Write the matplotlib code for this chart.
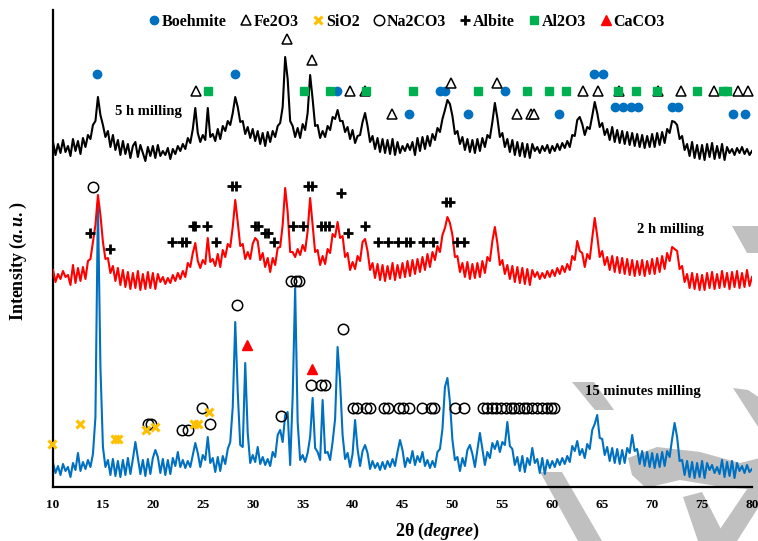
import numpy as np
import matplotlib
matplotlib.use("Agg")
import matplotlib.pyplot as plt
from matplotlib.lines import Line2D
from matplotlib.patches import Polygon

plt.rcParams['font.family'] = ['Liberation Serif', 'DejaVu Serif']
plt.rcParams['font.weight'] = 'bold'
plt.rcParams['mathtext.fontset'] = 'custom'
plt.rcParams['mathtext.rm'] = 'Liberation Serif:bold'
plt.rcParams['mathtext.bf'] = 'Liberation Serif:bold'
plt.rcParams['mathtext.it'] = 'Liberation Serif:bold:italic'

# 2-theta scan, 0.25 degree steps
two_theta = np.arange(10.0, 80.001, 0.25)

# intensities (a.u.), one row per 5 degrees
milled_5h = [
    345, 332, 343, 334, 347, 335, 341, 331, 348, 336, 346, 333, 349, 340, 352, 348, 362, 366, 390, 372,
    362, 350, 356, 340, 352, 337, 347, 332, 346, 333, 343, 329, 341, 345, 330, 342, 334, 326, 340, 331,
    341, 329, 342, 331, 336, 332, 339, 328, 338, 333, 341, 336, 343, 338, 349, 344, 358, 379, 354, 345,
    352, 347, 379, 350, 353, 346, 358, 348, 361, 356, 366, 362, 374, 390, 380, 365, 366, 353, 360, 349,
    358, 346, 356, 343, 354, 341, 355, 345, 356, 350, 361, 364, 380, 430, 408, 366, 361, 350, 359, 349,
    363, 357, 374, 412, 388, 361, 362, 349, 356, 350, 361, 357, 370, 368, 377, 366, 366, 355, 360, 348,
    357, 344, 351, 352, 365, 374, 361, 345, 351, 338, 349, 335, 348, 334, 347, 333, 348, 332, 345, 334,
    341, 336, 343, 337, 345, 332, 349, 336, 350, 338, 351, 341, 353, 347, 359, 355, 368, 377, 387, 383,
    371, 353, 356, 343, 350, 337, 348, 335, 347, 334, 348, 336, 349, 340, 352, 349, 365, 384, 369, 350,
    354, 340, 348, 335, 347, 332, 345, 331, 344, 330, 343, 329, 343, 336, 340, 334, 341, 336, 342, 334,
    341, 336, 343, 337, 344, 339, 346, 340, 352, 351, 367, 370, 363, 352, 360, 358, 371, 385, 374, 360,
    364, 352, 358, 347, 360, 345, 357, 344, 356, 343, 355, 342, 354, 341, 353, 340, 352, 339, 351, 340,
    353, 340, 354, 342, 355, 344, 358, 354, 366, 365, 362, 348, 351, 337, 343, 331, 345, 329, 342, 328,
    342, 327, 343, 330, 344, 328, 341, 329, 343, 327, 340, 334, 338, 332, 339, 334, 340, 333, 338, 332,
    336,
]
milled_2h = [
    217, 205, 213, 208, 216, 210, 212, 202, 222, 204, 219, 206, 220, 208, 226, 228, 245, 262, 292, 272,
    245, 228, 229, 214, 221, 206, 219, 202, 217, 200, 215, 198, 214, 199, 216, 197, 213, 198, 215, 199,
    214, 198, 213, 205, 210, 203, 209, 204, 212, 206, 214, 208, 216, 210, 224, 220, 234, 244, 226, 219,
    227, 223, 249, 225, 228, 221, 233, 220, 237, 230, 243, 240, 260, 287, 265, 241, 243, 228, 235, 228,
    243, 249, 246, 227, 234, 220, 229, 215, 229, 222, 239, 240, 262, 299, 275, 235, 235, 230, 238, 232,
    242, 236, 256, 289, 262, 235, 237, 222, 231, 223, 238, 234, 253, 250, 265, 249, 251, 230, 234, 217,
    225, 218, 231, 226, 245, 248, 236, 217, 224, 209, 223, 207, 222, 206, 221, 208, 224, 207, 222, 209,
    224, 210, 226, 211, 227, 213, 228, 215, 230, 217, 233, 220, 235, 227, 241, 235, 252, 259, 270, 264,
    252, 230, 231, 215, 224, 210, 225, 208, 223, 209, 224, 210, 226, 214, 230, 226, 246, 260, 244, 222,
    227, 213, 222, 208, 221, 205, 220, 204, 219, 203, 218, 202, 217, 210, 215, 208, 214, 209, 216, 210,
    217, 211, 219, 213, 221, 215, 223, 217, 231, 227, 246, 236, 234, 220, 233, 228, 249, 269, 251, 230,
    236, 222, 230, 217, 231, 215, 230, 214, 229, 213, 228, 212, 227, 211, 226, 212, 227, 211, 226, 213,
    228, 213, 229, 215, 231, 218, 234, 226, 240, 238, 236, 218, 221, 205, 213, 199, 214, 198, 213, 197,
    212, 197, 214, 199, 215, 198, 213, 199, 216, 200, 214, 198, 215, 200, 216, 199, 214, 200, 217, 201,
    210,
]
milled_15min = [
    24, 14, 21, 12, 23, 16, 20, 10, 24, 17, 34, 16, 25, 18, 27, 20, 33, 70, 285, 120,
    40, 20, 27, 12, 28, 11, 26, 10, 27, 12, 29, 13, 28, 45, 29, 13, 27, 11, 28, 13,
    29, 37, 30, 14, 28, 12, 27, 13, 29, 21, 35, 20, 27, 19, 26, 20, 32, 44, 34, 20,
    32, 27, 50, 24, 29, 15, 30, 16, 31, 23, 38, 45, 80, 165, 95, 42, 40, 124, 54, 24,
    32, 25, 40, 23, 30, 22, 28, 21, 35, 30, 52, 57, 45, 72, 75, 22, 90, 199, 65, 27,
    32, 25, 34, 50, 89, 39, 35, 27, 87, 34, 35, 27, 45, 68, 140, 105, 52, 28, 34, 20,
    33, 67, 38, 21, 36, 42, 34, 18, 26, 19, 24, 17, 25, 18, 26, 20, 28, 21, 35, 47,
    37, 20, 29, 24, 36, 22, 31, 25, 35, 21, 27, 19, 26, 20, 35, 38, 58, 100, 109, 85,
    47, 27, 30, 16, 29, 21, 37, 42, 33, 20, 37, 54, 38, 22, 35, 29, 44, 38, 46, 35,
    45, 42, 65, 41, 38, 22, 30, 16, 31, 15, 29, 22, 39, 24, 28, 14, 29, 13, 27, 19,
    26, 20, 28, 22, 29, 23, 31, 25, 41, 36, 46, 32, 38, 29, 43, 38, 57, 63, 72, 49,
    48, 32, 40, 26, 39, 24, 38, 23, 37, 24, 39, 34, 52, 36, 38, 23, 36, 21, 35, 20,
    34, 19, 33, 20, 35, 21, 36, 30, 48, 64, 50, 26, 27, 12, 26, 10, 25, 9, 24, 10,
    26, 9, 24, 17, 22, 14, 20, 13, 27, 10, 25, 11, 26, 9, 24, 16, 21, 14, 22, 15,
    18,
]

# phase markers: (2-theta, height)
boehmite = [(14.4, 413), (28.2, 413), (38.4, 396), (45.7, 373), (48.8, 396), (49.3, 396),
            (51.6, 373), (55.3, 396), (60.7, 373), (64.2, 413), (65.1, 413), (66.3, 380),
            (67.1, 380), (67.9, 380), (68.6, 380), (72.0, 380), (72.6, 380), (78.1, 373), (79.3, 373)]
fe2o3 = [(24.3, 396), (33.4, 448), (35.9, 427), (39.7, 396), (41.2, 396), (43.9, 373),
         (49.9, 404), (54.5, 404), (56.5, 373), (57.9, 373), (58.2, 373), (63.1, 396),
         (64.6, 396), (66.7, 396), (70.6, 396), (72.9, 396), (76.2, 396), (78.6, 396), (79.6, 396)]
al2o3 = [(25.5, 396), (35.1, 396), (37.7, 396), (41.3, 396), (46.1, 396), (52.6, 396),
         (57.5, 396), (59.7, 396), (61.4, 396), (66.6, 396), (68.4, 396), (70.5, 396),
         (74.5, 396), (77.1, 396), (77.5, 396)]
albite = [(13.7, 254), (15.7, 238), (21.9, 245), (22.9, 245), (23.3, 245), (24.0, 261),
          (24.2, 261), (25.4, 261), (26.3, 245), (27.9, 301), (28.3, 301), (30.2, 261),
          (30.5, 261), (31.2, 254), (31.5, 254), (32.1, 245), (34.0, 261), (35.0, 261),
          (35.5, 301), (35.9, 301), (36.8, 261), (37.2, 261), (37.6, 261), (38.8, 294),
          (39.5, 254), (41.2, 261), (42.5, 245), (43.5, 245), (44.5, 245), (45.4, 245),
          (45.8, 245), (47.1, 245), (48.1, 245), (49.4, 285), (49.8, 285),
          (50.5, 245), (51.2, 245)]
na2co3 = [(14.0, 300), (19.5, 63), (19.8, 63), (22.9, 57), (23.5, 57), (24.9, 79), (25.7, 63),
          (28.4, 182), (32.8, 71), (33.8, 206), (34.3, 206), (34.6, 206), (35.8, 102),
          (36.8, 102), (37.2, 102), (39.0, 158)]
na2co3 += [(t, 79) for t in [40.0, 40.4, 41.3, 41.7, 43.1, 43.5, 44.6, 45.1, 45.7, 47.0, 47.9,
                             48.2, 50.3, 51.2, 53.1, 53.5, 54.0, 54.4, 54.9, 55.4, 55.9, 56.2,
                             56.7, 57.2, 57.5, 58.0, 58.5, 59.0, 59.5, 59.9, 60.2]]
sio2 = [(9.9, 43), (12.7, 63), (16.2, 48), (16.5, 48), (19.3, 57), (20.2, 60), (24.1, 63),
        (24.5, 63), (25.6, 75)]
caco3 = [(29.4, 142), (35.9, 118)]

W, H = 758, 541
fig = plt.figure(figsize=(W / 100, H / 100), dpi=100)

# grey background swooshes (pixel outlines)
swooshes = [
    [(732, 226), (760, 226), (760, 253), (747, 253)],
    [(572, 382), (594, 382), (614, 410), (595, 410)],
    [(733, 388), (748, 390), (760, 398), (760, 430)],
    [(540, 472), (562, 472), (602, 541), (578, 541)],
    [(628, 458), (657, 447), (700, 452), (740, 463), (760, 458), (760, 490),
     (722, 487), (680, 480), (646, 488), (632, 475)],
    [(760, 470), (760, 505), (737, 541), (712, 541)],
    [(683, 497), (702, 492), (727, 541), (698, 541)],
]
for pts in swooshes:
    fig.patches.append(Polygon([(x / W, 1 - y / H) for x, y in pts], closed=True,
                               transform=fig.transFigure, facecolor='#c0c0c0',
                               edgecolor='none', zorder=-5))

ax = fig.add_axes([53 / W, 1 - 487 / H, 699 / W, 477 / H])
ax.set_facecolor('none')

ax.plot(two_theta, milled_15min, color='#0070C0', lw=1.5, zorder=2)
ax.plot(two_theta, milled_2h, color='#FF0000', lw=1.5, zorder=3)
ax.plot(two_theta, milled_5h, color='black', lw=1.5, zorder=4)


def mark(pairs, **kw):
    t, h = zip(*pairs)
    ax.plot(t, h, ls='none', clip_on=False, zorder=6, **kw)


mark(boehmite, marker='o', ms=6, mfc='#0070C0', mec='#0070C0')
mark(fe2o3, marker='^', ms=7, mfc='white', mec='black', mew=1.1)
mark(al2o3, marker='s', ms=6, mfc='#00B050', mec='#00B050')
mark(albite, marker='+', ms=7, mec='black', mew=2)
mark(na2co3, marker='o', ms=7.5, mfc='none', mec='black', mew=1.1)
mark(sio2, marker='x', ms=5.5, mec='#FFC000', mew=2.2)
mark(caco3, marker='^', ms=7, mfc='#FF0000', mec='#FF0000')

ax.text(19.6, 375, '5 h milling', fontsize=10.5, ha='center', va='center', zorder=7)
ax.text(71.8, 258, '2 h milling', fontsize=10.5, ha='center', va='center', zorder=7)
ax.text(69.1, 96, '15 minutes milling', fontsize=10.5, ha='center', va='center', zorder=7)

ax.set_xlim(10, 80)
ax.set_ylim(0, 477)
ax.set_xticks(range(10, 81, 5))
ax.set_yticks([])
ax.tick_params(axis='x', length=0, pad=9, labelsize=9.5)
for s in ['top', 'right']:
    ax.spines[s].set_visible(False)
for s in ['left', 'bottom']:
    ax.spines[s].set_linewidth(1.6)

handles = [
    Line2D([], [], ls='none', marker='o', ms=6, mfc='#0070C0', mec='#0070C0', label='Boehmite'),
    Line2D([], [], ls='none', marker='^', ms=7, mfc='white', mec='black', mew=1.1, label='Fe2O3'),
    Line2D([], [], ls='none', marker='x', ms=5.5, mec='#FFC000', mew=2.2, label='SiO2'),
    Line2D([], [], ls='none', marker='o', ms=7.5, mfc='none', mec='black', mew=1.1, label='Na2CO3'),
    Line2D([], [], ls='none', marker='+', ms=7, mec='black', mew=2, label='Albite'),
    Line2D([], [], ls='none', marker='s', ms=6, mfc='#00B050', mec='#00B050', label='Al2O3'),
    Line2D([], [], ls='none', marker='^', ms=7, mfc='#FF0000', mec='#FF0000', label='CaCO3'),
]
fig.legend(handles=handles, loc='center', bbox_to_anchor=(407 / W, 1 - 22 / H), ncol=7,
           frameon=False, fontsize=11.5, handlelength=0.6, handletextpad=0.2,
           columnspacing=0.9, borderpad=0)

fig.text(18 / W, 1 - 261 / H, r'Intensity $\mathit{(a.u.)}$', rotation=90, fontsize=13,
         ha='center', va='center')
fig.text(438 / W, 1 - 531 / H, r'2θ $\mathit{(degree)}$', fontsize=13, ha='center', va='center')

fig.savefig('out.png', dpi=100)
